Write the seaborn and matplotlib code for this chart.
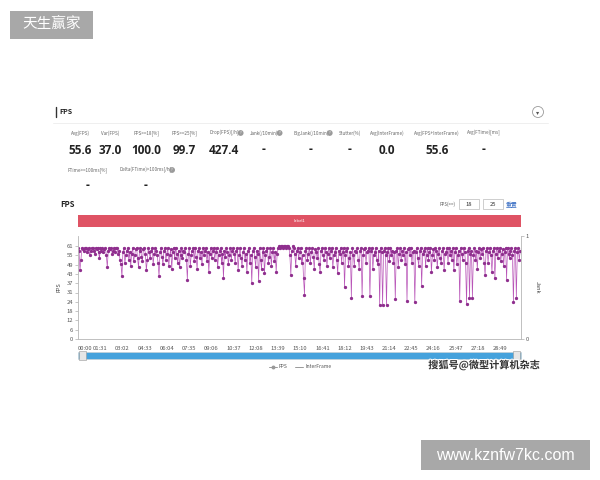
import numpy as np
import pandas as pd
import matplotlib
matplotlib.use("Agg")
import matplotlib.pyplot as plt
import matplotlib.patheffects as pe
from matplotlib.patches import Rectangle, Ellipse
from matplotlib.lines import Line2D
import seaborn as sns

# ---- values ----
stat_labels = ["Avg(FPS)", "Var(FPS)", "FPS>=18[%]", "FPS>=25[%]", "Drop(FPS)[/h]",
               "Jank(/10min)", "BigJank(/10min)", "Stutter(%)", "Avg(InterFrame)",
               "Avg(FPS+InterFrame)", "Avg(FTime)[ms]"]
stat_values = ["55.6", "37.0", "100.0", "99.7", "427.4", "-", "-", "-", "0.0", "55.6", "-"]
stat_help = [False, False, False, False, True, True, True, False, False, False, False]
stat2_labels = ["FTime>=100ms[%]", "Delta(FTime)>100ms[/h]"]
stat2_values = ["-", "-"]
stat2_help = [False, True]

time_labels = ["00:00", "01:31", "03:02", "04:33", "06:04", "07:35", "09:06", "10:37",
               "12:08", "13:39", "15:10", "16:41", "18:12", "19:43", "21:14", "22:45",
               "24:16", "25:47", "27:18", "28:49"]
tick_step_s = 91
fps_tick_labels = ["0", "6", "12", "18", "24", "31", "37", "43", "49", "55", "61"]
fps_tick_step = 6.1
sample_step_s = 4

fps = [60, 58, 45, 52, 60, 59, 58, 60, 60, 57, 59, 60, 55, 58, 60, 60, 58, 56, 60, 59,
       60, 57, 53, 60, 58, 60, 57, 59, 60, 55, 47, 58, 60, 59, 60, 56, 58, 60, 57, 60,
       60, 56, 58, 52, 49, 41, 57, 60, 50, 55, 58, 60, 52, 57, 48, 56, 60, 51, 55, 59,
       60, 53, 47, 58, 60, 54, 51, 59, 60, 56, 45, 52, 60, 57, 53, 58, 60, 49, 56, 60,
       58, 55, 50, 41, 57, 60, 54, 49, 58, 60, 52, 56, 60, 48, 55, 59, 46, 57, 60, 53,
       60, 56, 50, 58, 47, 55, 60, 53, 58, 57, 60, 52, 39, 56, 60, 48, 55, 58, 60, 51,
       60, 54, 46, 58, 60, 53, 57, 49, 60, 55, 58, 60, 51, 57, 44, 56, 60, 53, 58, 60,
       52, 57, 60, 47, 55, 58, 60, 50, 56, 40, 58, 54, 60, 57, 49, 55, 60, 52, 58, 60,
       56, 50, 58, 60, 45, 55, 60, 53, 48, 57, 60, 52, 56, 44, 58, 60, 50, 55, 37, 58,
       60, 54, 47, 58, 56, 38, 60, 52, 46, 57, 60, 43, 55, 58, 60, 50, 54, 60, 48, 57,
       60, 51, 57, 44, 56, 60, 61, 60, 61, 61, 60, 61, 61, 60, 61, 61, 60, 55, 42, 58,
       61, 60, 56, 48, 58, 60, 53, 57, 60, 50, 55, 40, 29, 58, 60, 52, 56, 60, 50, 57,
       60, 54, 46, 59, 57, 53, 60, 49, 44, 58, 60, 55, 52, 60, 57, 48, 56, 60, 53, 58,
       60, 47, 55, 57, 60, 52, 43, 58, 56, 60, 50, 57, 60, 34, 55, 58, 60, 48, 53, 57,
       27, 60, 55, 48, 58, 57, 60, 52, 46, 58, 60, 28, 55, 59, 60, 50, 57, 58, 60, 28,
       58, 60, 46, 55, 57, 60, 52, 49, 58, 22, 60, 57, 22, 58, 60, 55, 22, 57, 60, 51,
       60, 55, 58, 50, 57, 26, 58, 60, 47, 56, 60, 52, 58, 55, 60, 49, 57, 25, 59, 60,
       55, 60, 50, 57, 58, 24, 57, 60, 53, 48, 58, 60, 35, 56, 58, 60, 48, 55, 60, 52,
       57, 60, 44, 55, 59, 52, 60, 58, 47, 56, 60, 53, 50, 58, 60, 45, 56, 57, 60, 50,
       60, 55, 58, 52, 60, 45, 57, 60, 49, 55, 58, 25, 60, 56, 52, 60, 57, 50, 23, 58,
       60, 27, 56, 58, 27, 55, 60, 52, 58, 46, 57, 60, 53, 59, 56, 60, 50, 42, 58, 60,
       50, 57, 60, 55, 44, 58, 60, 40, 56, 60, 53, 58, 60, 51, 56, 59, 48, 57, 60, 39,
       60, 56, 53, 58, 60, 55, 24, 58, 60, 27, 57, 60, 52, 58]
interframe = [0.0] * len(fps)

W, H = 600, 480
def fx(px):
    return px / W
def fy(py):
    return 1 - py / H

sns.set_theme(style="white")
plt.rcParams["font.family"] = ["Noto Sans CJK SC", "DejaVu Sans"]

fig = plt.figure(figsize=(6, 4.8), dpi=100)
fig.patch.set_facecolor("white")

# ---- watermarks ----
fig.patches.append(Rectangle((fx(10), fy(39)), 83 / W, 28 / H, transform=fig.transFigure,
                             fc="#a8a8a8", ec="none"))
fig.text(fx(51.5), fy(25), "天生赢家", ha="center", va="center", color="white", fontsize=10.5)
fig.patches.append(Rectangle((fx(421), fy(470)), 169 / W, 30 / H, transform=fig.transFigure,
                             fc="#a8a8a8", ec="none"))
fig.text(fx(505), fy(455), "www.kznfw7kc.com", ha="center", va="center", color="white",
         fontsize=11.5, family=["Liberation Sans", "DejaVu Sans"])

# ---- header ----
fig.add_artist(Line2D([fx(55.5), fx(55.5)], [fy(107), fy(117)], color="#333", lw=1))
fig.text(fx(59), fy(112), "FPS", ha="left", va="center", fontsize=5, weight="bold", color="#222")
fig.add_artist(Line2D([fx(53), fx(548)], [fy(123), fy(123)], color="#ececec", lw=0.6))
fig.patches.append(Ellipse((fx(538), fy(112)), 11 / W, 11 / H, transform=fig.transFigure,
                           fc="white", ec="#999", lw=0.6))
fig.text(fx(538), fy(112.5), "▾", ha="center", va="center", fontsize=4.5, color="#555",
         family=["DejaVu Sans"])

# ---- stats ----
stat_x = [80, 110, 146, 184, 224, 264, 311, 350, 387, 437, 484]
for x, lab, val, hp in zip(stat_x, stat_labels, stat_values, stat_help):
    fig.text(fx(x), fy(133), lab, ha="center", va="center", fontsize=3.3, color="#666")
    if hp:
        w = len(lab) * 2.1
        fig.text(fx(x + w / 2 + 3), fy(133), "?", ha="center", va="center", fontsize=2.6,
                 color="white", bbox=dict(boxstyle="circle,pad=0.25", fc="#9a9a9a", ec="none"))
    fig.text(fx(x), fy(150), val, ha="center", va="center", fontsize=8.5, weight="bold",
             color="#222", family=["Open Sans", "DejaVu Sans"])
stat2_x = [88, 146]
for x, lab, val, hp in zip(stat2_x, stat2_labels, stat2_values, stat2_help):
    fig.text(fx(x), fy(170), lab, ha="center", va="center", fontsize=3.3, color="#666")
    if hp:
        w = len(lab) * 2.1
        fig.text(fx(x + w / 2 + 3), fy(170), "?", ha="center", va="center", fontsize=2.6,
                 color="white", bbox=dict(boxstyle="circle,pad=0.25", fc="#9a9a9a", ec="none"))
    fig.text(fx(x), fy(186), val, ha="center", va="center", fontsize=8.5, weight="bold",
             color="#222", family=["Open Sans", "DejaVu Sans"])

# ---- chart header row ----
fig.text(fx(60), fy(205), "FPS", ha="left", va="center", fontsize=5.5, weight="bold", color="#222")
fig.text(fx(455), fy(204), "FPS(>=)", ha="right", va="center", fontsize=3.2, color="#555")
for x0, v in [(459, "18"), (483, "25")]:
    fig.patches.append(Rectangle((fx(x0), fy(208.5)), 20 / W, 9 / H, transform=fig.transFigure,
                                 fc="white", ec="#bbb", lw=0.5))
    fig.text(fx(x0 + 10), fy(204), v, ha="center", va="center", fontsize=4.2, color="#333")
fig.text(fx(512), fy(204), "重置", ha="center", va="center", fontsize=4.2, color="#3a6fc4")
fig.patches.append(Rectangle((fx(78), fy(227)), 443 / W, 12 / H, transform=fig.transFigure,
                             fc="#df5364", ec="none"))
fig.text(fx(300), fy(221), "label1", ha="center", va="center", fontsize=3, color="white")

# ---- main axes ----
ax = fig.add_axes([fx(78), fy(339), 443 / W, 103 / H])
df = pd.DataFrame({"t": np.arange(len(fps)) * sample_step_s, "FPS": fps,
                   "InterFrame": interframe})
sns.lineplot(data=df, x="t", y="FPS", ax=ax, color="#b955b8", lw=0.5, marker="o",
             markersize=1.6, markerfacecolor="#8f2f8e", markeredgecolor="#8f2f8e",
             legend=False)
ax2 = ax.twinx()
sns.lineplot(data=df, x="t", y="InterFrame", ax=ax2, color="#9a9a9a", lw=0.6, legend=False)

ax.set_xlim(0, (521 - 78.6) / 22.18 * tick_step_s)
ax.set_ylim(0, 61 * 103 / 93)
ax2.set_ylim(0, 1)
ax.set_xticks(np.arange(len(time_labels)) * tick_step_s)
ax.set_xticklabels(time_labels)
ax.get_xticklabels()[0].set_ha("left")
ax.set_yticks(np.arange(len(fps_tick_labels)) * fps_tick_step)
ax.set_yticklabels(fps_tick_labels)
ax2.set_yticks([0, 1])
ax2.set_yticklabels(["0", "1"])
ax.set_xlabel("")
ax.set_ylabel("FPS", fontsize=4, color="#444", labelpad=4)
ax2.set_ylabel("Jank", fontsize=4, color="#444", rotation=-90, labelpad=8)
for a in (ax, ax2):
    a.tick_params(labelsize=4.2, labelcolor="#555", color="#999", length=2, width=0.4, pad=1.5)
    a.grid(False)
    a.set_facecolor("none")
    a.spines["top"].set_visible(False)
    for s in ("left", "right", "bottom"):
        a.spines[s].set_color("#bbb")
        a.spines[s].set_linewidth(0.5)
ax.tick_params(axis="x", pad=3)

# ---- zoom slider ----
fig.patches.append(Rectangle((fx(78), fy(359)), 443 / W, 7 / H, transform=fig.transFigure,
                             fc="#45a2dc", ec="#d0d0d0", lw=0.4))
for x0 in (79, 513):
    fig.patches.append(Rectangle((fx(x0), fy(360)), 7 / W, 9 / H, transform=fig.transFigure,
                                 fc="#e6e6e6", ec="#999", lw=0.4))

# ---- legend ----
handles = [Line2D([], [], color="#999", lw=0.7, marker="o", markersize=1.8),
           Line2D([], [], color="#999", lw=0.7)]
fig.legend(handles, ["FPS", "InterFrame"], loc="center", bbox_to_anchor=(fx(300), fy(367)),
           ncol=2, frameon=False, fontsize=3.6, handlelength=1.6, columnspacing=1.5,
           handletextpad=0.4, labelcolor="#555")

fig.text(fx(484), fy(365), "搜狐号@微型计算机杂志", ha="center", va="center", fontsize=7.3,
         color="#333", weight="bold",
         path_effects=[pe.withStroke(linewidth=1.6, foreground="white")])

fig.savefig("out.png", dpi=100, facecolor="white")
